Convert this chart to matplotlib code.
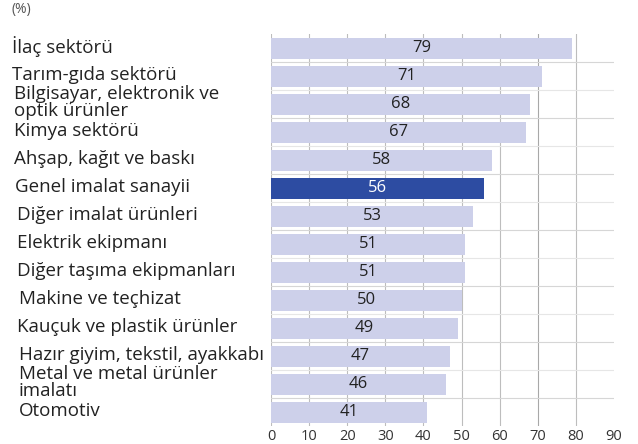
import matplotlib
matplotlib.use("Agg")
import matplotlib.pyplot as plt
import matplotlib.transforms as mtransforms

categories = [
    "İlaç sektörü",
    "Tarım-gıda sektörü",
    "Bilgisayar, elektronik ve\noptik ürünler",
    "Kimya sektörü",
    "Ahşap, kağıt ve baskı",
    "Genel imalat sanayii",
    "Diğer imalat ürünleri",
    "Elektrik ekipmanı",
    "Diğer taşıma ekipmanları",
    "Makine ve teçhizat",
    "Kauçuk ve plastik ürünler",
    "Hazır giyim, tekstil, ayakkabı",
    "Metal ve metal ürünler\nimalatı",
    "Otomotiv",
]
values = [79, 71, 68, 67, 58, 56, 53, 51, 51, 50, 49, 47, 46, 41]
highlight = "Genel imalat sanayii"
xticks = [0, 10, 20, 30, 40, 50, 60, 70, 80, 90]

FONT = ["Open Sans", "DejaVu Sans"]
LIGHT = "#cdd0ea"
DARK = "#2d4ca2"

fig = plt.figure(figsize=(6.38, 4.44), dpi=100)
ax = fig.add_axes([271/638, 1-426/444, (614-271)/638, 392/444])

ypos = list(range(len(categories)))
colors = [DARK if c == highlight else LIGHT for c in categories]
bars = ax.barh(ypos, values, height=0.75, color=colors, zorder=3)

ax.set_xlim(0, 90)
ax.set_ylim(len(categories) - 0.5, -0.5)

# grid
for t in xticks[:-1]:
    ax.axvline(t, color="#bdbdbd" if t != 70 else "#a8a8a8", lw=0.8, zorder=1)
for i in range(len(categories) - 1):
    ax.axhline(i + 0.5, color="#d6d6d6" if i % 2 == 0 else "#e6e6e6", lw=0.8, zorder=1)

for s in ax.spines.values():
    s.set_visible(False)
ax.set_xticks(xticks)
ax.set_xticklabels([str(t) for t in xticks], fontsize=10.5, family=FONT, color="#333333")
ax.tick_params(axis="x", length=0, pad=2)
ax.set_yticks([])

# value labels
for b, v, c in zip(bars, values, colors):
    ax.text(v / 2, b.get_y() + b.get_height() / 2, str(v), ha="center", va="center",
            fontsize=12, family=FONT, color="white" if c == DARK else "#222222", zorder=4)

# category labels
xoff = [12, 12, 14, 14, 14, 15, 17, 17, 17, 19, 17, 19, 19, 19]
trans = mtransforms.blended_transform_factory(fig.transFigure, ax.transData)
for y, cat, xo in zip(ypos, categories, xoff):
    ax.text(xo / 638, y - 0.05, cat, transform=trans, ha="left", va="center",
            fontsize=13.5, family=FONT, color="#222222", linespacing=0.88)

fig.text(12/638, 1-10/444, "(%)", fontsize=10, family=FONT, color="#555555",
         ha="left", va="center")

fig.savefig("out.png", dpi=100)
